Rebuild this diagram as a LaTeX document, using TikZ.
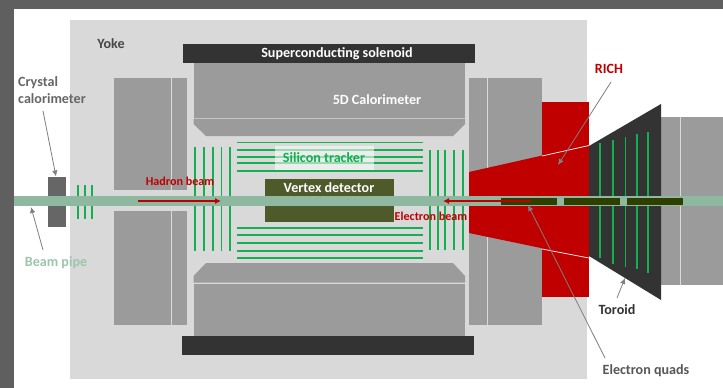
\documentclass[tikz,border=0pt]{standalone}
\usepackage{fontspec}
\setmainfont{Carlito}
\definecolor{frame}{HTML}{5F5F5F}
\definecolor{yoke}{HTML}{D9D9D9}
\definecolor{steel}{HTML}{9B9B9B}
\definecolor{coil}{HTML}{333333}
\definecolor{pipe}{HTML}{8FB8A0}
\definecolor{pipetext}{HTML}{9CC5AE}
\definecolor{si}{HTML}{12B050}
\definecolor{vtx}{HTML}{4F5A2B}
\definecolor{quad}{HTML}{2F3F00}
\definecolor{redd}{HTML}{C00000}
\definecolor{crys}{HTML}{666666}
\definecolor{leader}{HTML}{7F7F7F}
\usetikzlibrary{arrows.meta}
\tikzset{
  lab/.style={font=\bfseries\fontsize{14.1}{16.5}\selectfont,inner sep=0pt,align=left},
  beamlab/.style={font=\bfseries\fontsize{12.1}{14}\selectfont,inner sep=0pt,text=redd},
  sep/.style={draw=yoke,line width=1pt},
  sil/.style={draw=si,line width=1.2pt},
  beamarrow/.style={draw=redd,line width=2pt,-{Latex[length=6pt,width=6pt]}},
  leaderline/.style={draw=leader,line width=.8pt,-{Latex[length=6pt,width=5.5pt]}}
}
\begin{document}
\begin{tikzpicture}[x=1pt,y=-1pt]
\useasboundingbox (0,0) rectangle (723,388);
\fill[white] (0,0) rectangle (723,388);
\fill[frame] (0,0) rectangle (723,9);
\fill[frame] (0,0) rectangle (14,388);
\fill[yoke] (70,20) rectangle (587,379);
% end-cap iron
\fill[steel] (114,78) rectangle (187,190);
\fill[steel] (114,211) rectangle (187,325);
\draw[sep] (171.5,78) -- (171.5,190);
\draw[sep] (171.5,211) -- (171.5,325);
\fill[steel] (469,78) rectangle (542,325);
\draw[sep] (487,78) -- (487,325);
% calorimeter
\fill[steel] (193.5,63) rectangle (465,117.5);
\fill[steel] (193.5,118.5) -- (465,118.5) -- (465,124) -- (453,136) -- (206,136) -- (193.5,124) -- cycle;
\fill[steel] (193.5,276) -- (206,263) -- (453,263) -- (465,276) -- (465,282.5) -- (193.5,282.5) -- cycle;
\fill[steel] (193.5,283.5) rectangle (465,336);
\node[fill=coil,minimum width=292pt,minimum height=19pt,inner sep=0pt,anchor=north west] (sol1) at (183,44) {};
\node[fill=coil,minimum width=292pt,minimum height=19pt,inner sep=0pt,anchor=north west] (sol2) at (182,336) {};
% RICH
\fill[redd] (542,102) rectangle (589,297);
\fill[redd] (469,172) -- (589,145) -- (589,258) -- (469,233) -- cycle;
\draw[white,line width=.7pt] (542,156) -- (589,145.5);
\draw[white,line width=.7pt] (542,249) -- (589,258);
% right end
\fill[steel] (661,117) rectangle (723,285);
\draw[draw=yoke,line width=1pt] (680,117) -- (680,285);
\fill[coil] (589,146) -- (661,104) -- (661,300) -- (589,256) -- cycle;
\foreach \x/\a/\b in {600/143/258,613/140/264,625.5/137/267,637/134/269,648/131.5/273}
  \draw[sil] (\x,\a) -- (\x,\b);
% crystal
\fill[crys] (48,176.5) rectangle (65.5,227);
\foreach \x in {78,85,92} \draw[sil] (\x,185) -- (\x,218.5);
\foreach \x in {195,204,213,221.5,230} \draw[sil] (\x,147) -- (\x,251);
\foreach \x in {430,438,445,454,463} \draw[sil] (\x,150) -- (\x,250);
\foreach \y in {142.5,150,157,163,171,228,235,243,251,258} \draw[sil] (237,\y) -- (423,\y);
% labels box, vertex
\fill[white,opacity=.55] (275,146) rectangle (374,170);
\fill[vtx] (265,179) rectangle (394,222);
% pipe
\fill[pipe] (14,195.5) rectangle (723,206);
\foreach \a/\b in {501/557,564/620,627/683} \fill[quad] (\a,198) rectangle (\b,204.5);
% beam arrows
\coordinate (hs) at (138,201); \coordinate (he) at (221,201);
\coordinate (es) at (531,201); \coordinate (ee) at (443,201);
\draw[beamarrow] (hs) -- (he);
\draw[beamarrow] (es) -- (ee);
% texts
\node[lab,text=white] (tsol) at (337,54) {Superconducting solenoid};
\node[lab,text=white] (tcal) at (377,100) {5D Calorimeter};
\node[lab,text=si] (tsi) at (324,158) {Silicon tracker};
\node[lab,text=white] (tvtx) at (329,188) {Vertex detector};
\node[lab,text=coil!90!white] (tyoke) at (111,44) {Yoke};
\node[lab,text=crys,anchor=west] (tcry) at (18,90) {Crystal\\calorimeter};
\node[lab,text=pipetext] (tpipe) at (56,263) {Beam pipe};
\node[beamlab] (thad) at (180,181.5) {Hadron beam};
\node[beamlab] (tele) at (431,216) {Electron beam};
\node[lab,text=redd] (trich) at (609,69) {RICH};
\node[lab,text=coil] (ttor) at (617,310) {Toroid};
\node[lab,text=crys!85!black] (tquad) at (646,371) {Electron quads};
% leaders
\coordinate (c1) at (43,111); \coordinate (c2) at (56,176.5);
\coordinate (p1) at (43,250); \coordinate (p2) at (31,207);
\coordinate (r1) at (611,82); \coordinate (r2) at (558,165);
\coordinate (t1) at (617,298); \coordinate (t2) at (625,278);
\coordinate (q1) at (605,358); \coordinate (q2) at (528,205);
\draw[leaderline] (c1) -- (c2);
\draw[leaderline] (p1) -- (p2);
\draw[leaderline] (r1) -- (r2);
\draw[leaderline] (t1) -- (t2);
\draw[leaderline] (q1) -- (q2);
\end{tikzpicture}
\end{document}
